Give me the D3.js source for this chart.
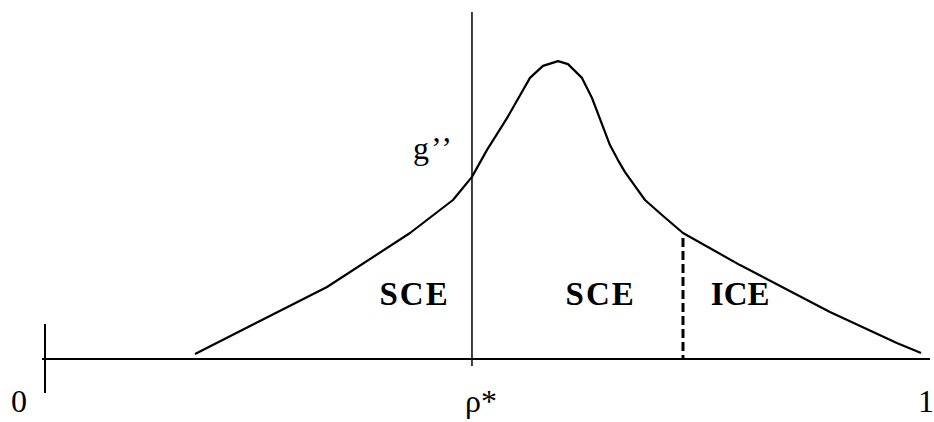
<!DOCTYPE html>
<html>
<head>
<meta charset="utf-8">
<script src="https://cdn.jsdelivr.net/npm/d3@7"></script>
<style>
  body { margin: 0; background: #fff; }
  svg { display: block; }
  text { font-family: "Liberation Serif", "Times New Roman", serif; fill: #000; }
</style>
</head>
<body>
<svg id="chart" width="934" height="422"></svg>
<script>
// curve g'' over rho in [0,1]
const rho = [0.1705, 0.3205, 0.4148, 0.4636, 0.4852, 0.5023, 0.525, 0.5511,
  0.5659, 0.583, 0.5943, 0.6102, 0.6216, 0.642, 0.6511, 0.6591, 0.6818, 0.7011, 0.725,
  0.7898, 0.892, 0.968, 0.9955];
const gval = [0.017, 0.24, 0.42, 0.53, 0.607, 0.697, 0.803, 0.937,
  0.977, 0.993, 0.983, 0.937, 0.87, 0.713, 0.663, 0.623, 0.53, 0.48, 0.42,
  0.313, 0.157, 0.053, 0.02];

const rhoStar = 0.4852;   // solid vertical line
const rhoSplit = 0.725;   // dashed boundary SCE / ICE
const tickLabels = ["0", "ρ*", "1"];
const regionLabels = ["SCE", "SCE", "ICE"];
const regionPos = [0.42, 0.6315, 0.79];

const svg = d3.select("#chart");
const x = d3.scaleLinear().domain([0, 1]).range([45, 925]);
const y = d3.scaleLinear().domain([0, 1]).range([359, 59]);

// horizontal axis
svg.append("line")
  .attr("x1", x(0) - 3).attr("x2", x(1) + 5)
  .attr("y1", y(0)).attr("y2", y(0))
  .attr("stroke", "#000").attr("stroke-width", 2);

// tick at 0
svg.append("line")
  .attr("x1", x(0)).attr("x2", x(0))
  .attr("y1", y(0) - 35).attr("y2", y(0) + 34)
  .attr("stroke", "#000").attr("stroke-width", 2);

// rho* vertical line
svg.append("line")
  .attr("x1", x(rhoStar)).attr("x2", x(rhoStar))
  .attr("y1", y(1.157)).attr("y2", y(0) + 7)
  .attr("stroke", "#000").attr("stroke-width", 1.5);

// dashed split line, up to the curve
const splitIdx = rho.indexOf(rhoSplit);
svg.append("line")
  .attr("x1", x(rhoSplit)).attr("x2", x(rhoSplit))
  .attr("y1", y(gval[splitIdx]) + 5).attr("y2", y(0))
  .attr("stroke", "#000").attr("stroke-width", 3)
  .attr("stroke-dasharray", "9,4");

// curve
const line = d3.line()
  .x((d, i) => x(rho[i]))
  .y((d) => y(d));

svg.append("path")
  .datum(gval)
  .attr("d", line)
  .attr("fill", "none")
  .attr("stroke", "#000")
  .attr("stroke-width", 2.2)
  .attr("stroke-linejoin", "round");

// tick labels
svg.selectAll("text.tick")
  .data([0, rhoStar, 1])
  .enter()
  .append("text")
  .attr("class", "tick")
  .attr("x", (d, i) => [x(d) - 34, x(d) - 7, x(d) - 7][i])
  .attr("y", 412)
  .attr("font-size", 32)
  .text((d, i) => tickLabels[i]);

// g'' label
svg.append("text")
  .attr("x", 413)
  .attr("y", 159)
  .attr("font-size", 32)
  .attr("letter-spacing", 2)
  .text("g\u2019\u2019");

// region labels
svg.selectAll("text.region")
  .data(regionPos)
  .enter()
  .append("text")
  .attr("class", "region")
  .attr("x", (d) => x(d))
  .attr("y", 305)
  .attr("text-anchor", "middle")
  .attr("font-size", 33)
  .attr("font-weight", "bold")
  .attr("letter-spacing", (d, i) => (i < 2 ? 2 : 0))
  .text((d, i) => regionLabels[i]);
</script>
</body>
</html>
